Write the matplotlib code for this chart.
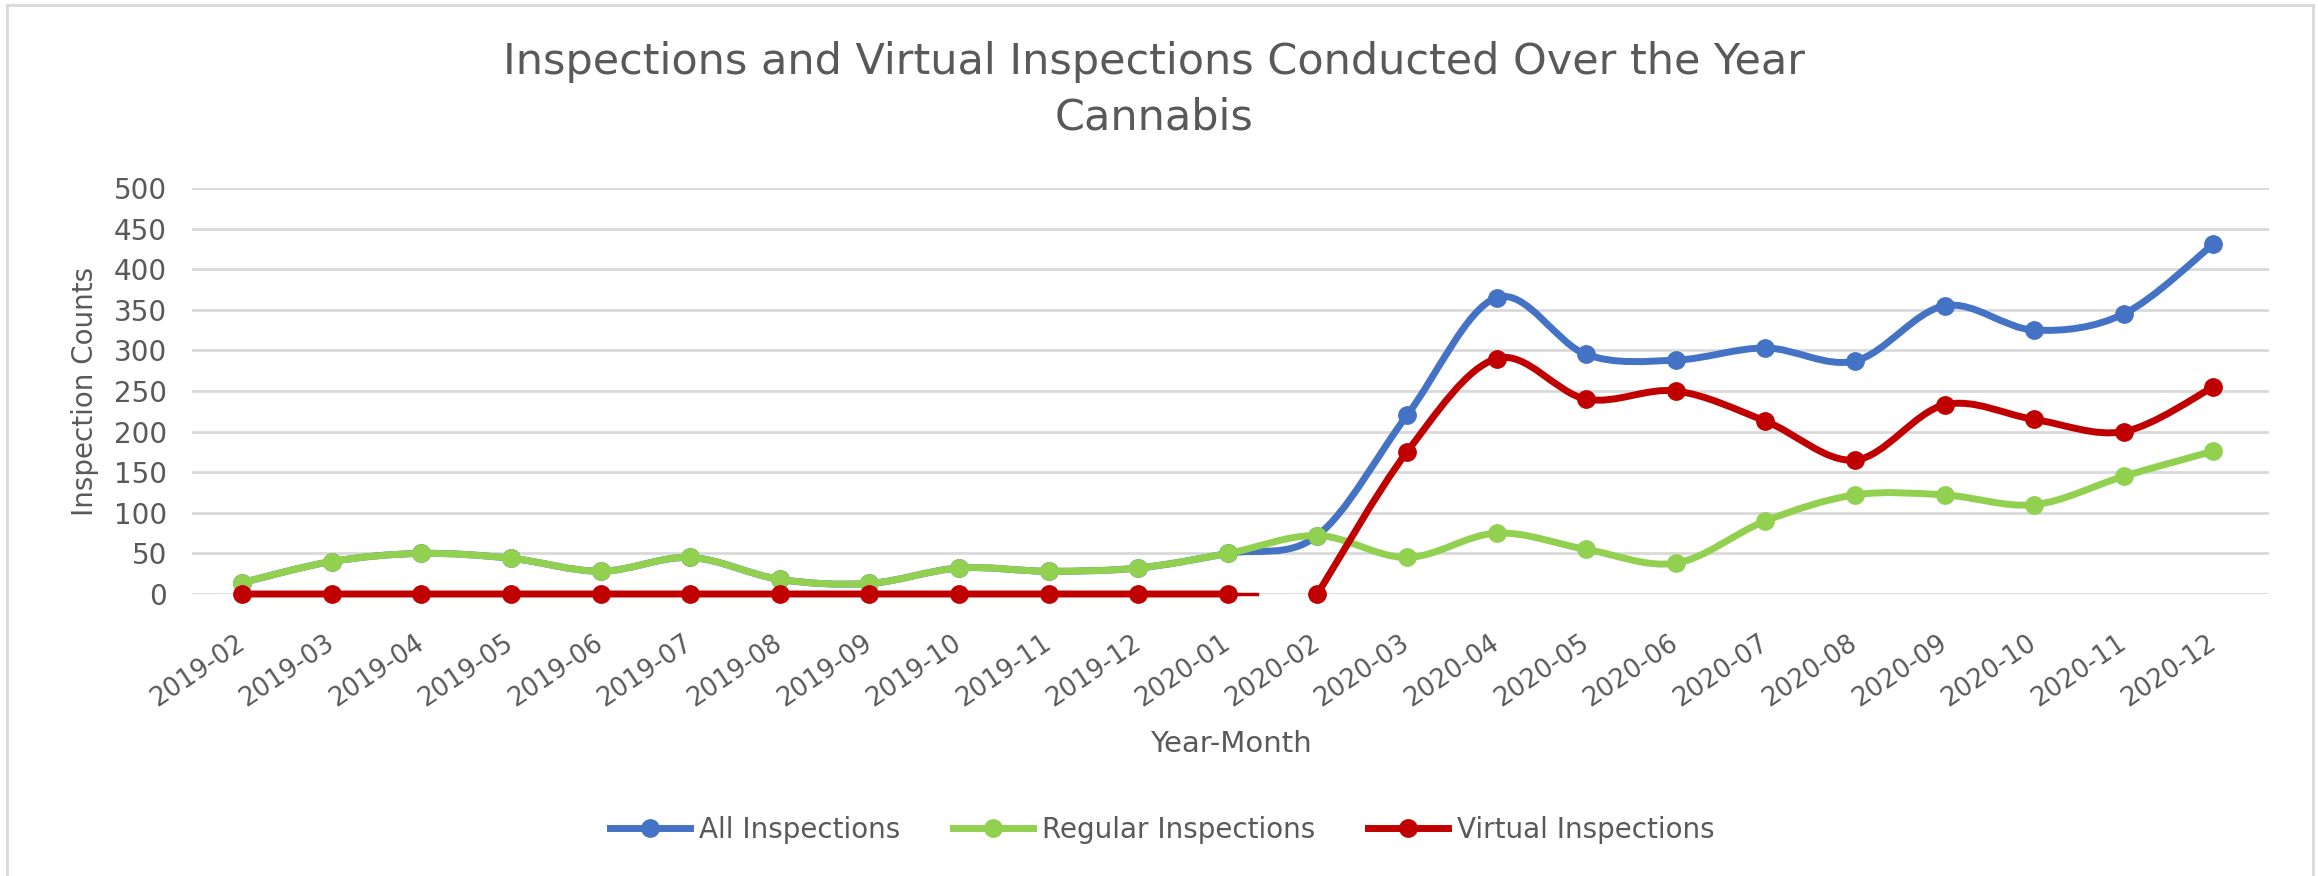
import matplotlib.pyplot as plt
from matplotlib.path import Path
from matplotlib.patches import PathPatch
from matplotlib.lines import Line2D

plt.rcParams['font.family'] = ['DejaVu Sans']

months = ['2019-02', '2019-03', '2019-04', '2019-05', '2019-06', '2019-07',
          '2019-08', '2019-09', '2019-10', '2019-11', '2019-12', '2020-01',
          '2020-02', '2020-03', '2020-04', '2020-05', '2020-06', '2020-07',
          '2020-08', '2020-09', '2020-10', '2020-11', '2020-12']
all_insp = [14, 40, 50, 44, 28, 45, 18, 13, 32, 28, 32, 50,
            72, 220, 365, 295, 288, 303, 287, 355, 325, 345, 431]
regular = [14, 40, 50, 44, 28, 45, 18, 13, 32, 28, 32, 50,
           72, 45, 75, 55, 38, 90, 122, 122, 110, 145, 176]
virtual = [0, 0, 0, 0, 0, 0, 0, 0, 0, 0, 0, 0,
           0, 175, 290, 240, 250, 213, 165, 233, 215, 200, 255]
virtual_gap_after = '2020-01'   # line is broken between 2020-01 and 2020-02

c_all = '#4472C4'
c_reg = '#92D050'
c_vir = '#C00000'
gray = '#595959'
LW = 5
MS = 12.5


def smooth_path(xs, ys):
    # Excel-like smoothed line: cubic bezier through the points
    verts = [(xs[0], ys[0])]
    codes = [Path.MOVETO]
    n = len(xs)
    for i in range(n - 1):
        x0, y0 = xs[max(i - 1, 0)], ys[max(i - 1, 0)]
        x1, y1 = xs[i], ys[i]
        x2, y2 = xs[i + 1], ys[i + 1]
        x3, y3 = xs[min(i + 2, n - 1)], ys[min(i + 2, n - 1)]
        verts.append((x1 + (x2 - x0) / 6, y1 + (y2 - y0) / 6))
        verts.append((x2 - (x3 - x1) / 6, y2 - (y3 - y1) / 6))
        verts.append((x2, y2))
        codes += [Path.CURVE4] * 3
    return Path(verts, codes)


def draw_series(ax, xs, ys, color, z):
    ax.add_patch(PathPatch(smooth_path(xs, ys), facecolor='none', edgecolor=color,
                           lw=LW, capstyle='round', joinstyle='round', zorder=z,
                           clip_on=False))
    ax.plot(xs, ys, 'o', color=color, ms=MS, zorder=z + 0.5, clip_on=False)


fig = plt.figure(figsize=(23.18, 8.76), dpi=100)
ax = fig.add_axes([192 / 2318, 1 - 594 / 876, (2269 - 192) / 2318, (594 - 188) / 876])

x = list(range(len(months)))
draw_series(ax, x, all_insp, c_all, 3)
draw_series(ax, x, regular, c_reg, 4)
g = months.index(virtual_gap_after) + 1
draw_series(ax, x[:g], virtual[:g], c_vir, 5)
draw_series(ax, x[g:], virtual[g:], c_vir, 5)
# short tapering stub where the virtual line breaks off
ax.plot([x[g - 1], x[g - 1] + 0.33], [virtual[g - 1]] * 2, color=c_vir, lw=2.5,
        zorder=5, clip_on=False)

ax.set_xlim(-0.56, len(months) - 1 + 0.62)
ax.set_ylim(0, 500)
ax.set_yticks(range(0, 501, 50))
ax.set_xticks(x)
ax.set_xticklabels(months, rotation=34, ha='right', va='center', rotation_mode='anchor')
ax.tick_params(axis='both', length=0, labelcolor=gray)
ax.tick_params(axis='y', pad=18, labelsize=20)
ax.tick_params(axis='x', pad=34, labelsize=18.5)
ax.grid(axis='y', color='#D9D9D9', lw=2)
ax.set_axisbelow(True)
for s in ax.spines.values():
    s.set_visible(False)

ax.set_ylabel('Inspection Counts', fontsize=20, color=gray)
ax.yaxis.set_label_coords(-0.045, 0.5)
fig.text(1231 / 2318, 1 - 744 / 876, 'Year-Month', fontsize=21, color=gray,
         ha='center', va='center')

fig.text(1154 / 2318, 1 - 74 / 876, 'Inspections and Virtual Inspections Conducted Over the Year',
         fontsize=31, color=gray, ha='center', va='baseline')
fig.text(1154 / 2318, 1 - 130 / 876, 'Cannabis', fontsize=31, color=gray,
         ha='center', va='baseline')

handles = [Line2D([], [], color=c, lw=LW, marker='o', ms=MS)
           for c in (c_all, c_reg, c_vir)]
fig.legend(handles, ['All Inspections', 'Regular Inspections', 'Virtual Inspections'],
           loc='center', bbox_to_anchor=(1162 / 2318, 1 - 830 / 876), ncol=3,
           frameon=False, fontsize=20, handlelength=2.9, handletextpad=0.3,
           columnspacing=1.9, labelcolor=gray)

# light chart border
for xs_, ys_ in [([0.003, 0.003], [0, 0.994]), ([0.003, 0.998], [0.994, 0.994]),
                 ([0.998, 0.998], [0, 0.994])]:
    fig.add_artist(Line2D(xs_, ys_, color='#D9D9D9', lw=2, transform=fig.transFigure))

fig.savefig('out.png', dpi=100)
